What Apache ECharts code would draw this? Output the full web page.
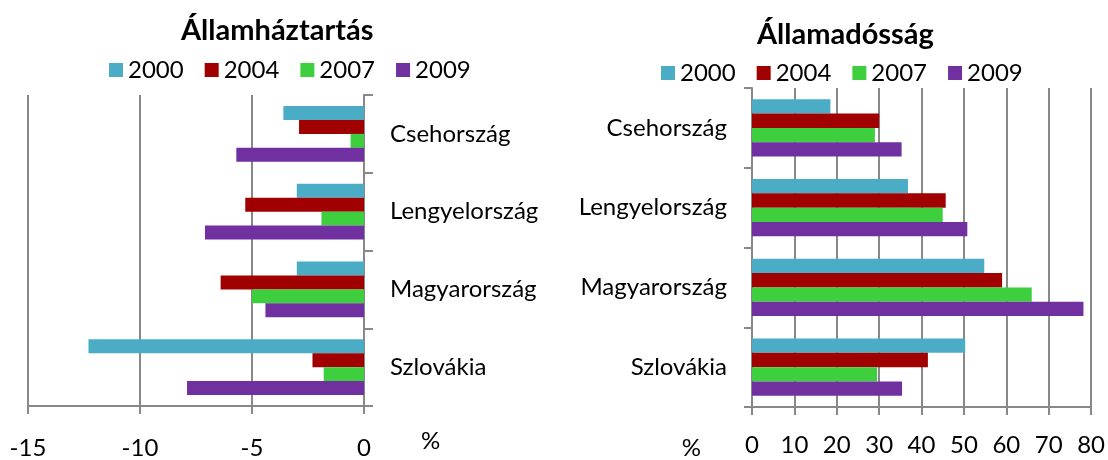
<!DOCTYPE html>
<html><head><meta charset="utf-8">
<script src="https://cdn.jsdelivr.net/npm/echarts@6/dist/echarts.min.js"></script>
<style>html,body{margin:0;padding:0;background:#fff}#c{width:1108px;height:460px}</style>
</head><body><div id="c"></div>
<script>
const categories = ['Csehország', 'Lengyelország', 'Magyarország', 'Szlovákia'];
const years = ['2000', '2004', '2007', '2009'];
const deficit2000 = [-3.6, -3.0, -3.0, -12.3];
const deficit2004 = [-2.9, -5.3, -6.4, -2.3];
const deficit2007 = [-0.6, -1.9, -5.0, -1.8];
const deficit2009 = [-5.7, -7.1, -4.4, -7.9];
const debt2000 = [18.5, 36.8, 54.8, 50.3];
const debt2004 = [30.0, 45.7, 59.0, 41.5];
const debt2007 = [29.0, 45.0, 66.0, 29.5];
const debt2009 = [35.3, 50.8, 78.2, 35.4];
const deficitTicks = [-15, -10, -5, 0];
const debtTicks = [0, 10, 20, 30, 40, 50, 60, 70, 80];
const titles = ['Államháztartás', 'Államadósság'];
const unitLabel = '%';

const colors = ['#4BACC6', '#A00000', '#3ECF3E', '#7030A0'];
const FONT = 'Lato';
const FS = 24;
const axisGrey = '#888888';

const deficitSets = [deficit2000, deficit2004, deficit2007, deficit2009];
const debtSets = [debt2000, debt2004, debt2007, debt2009];

const chart = echarts.init(document.getElementById('c'), null, {renderer: 'canvas'});

function series(sets, idx) {
  return sets.map((d, i) => ({
    type: 'bar', name: years[i], data: d,
    xAxisIndex: idx, yAxisIndex: idx,
    itemStyle: {color: colors[i]},
    barGap: '0%', barCategoryGap: '28%'
  }));
}

const legendBase = {
  data: years, itemWidth: 14, itemHeight: 14, itemGap: 21, icon: 'rect', padding: 0,
  textStyle: {fontFamily: FONT, fontSize: FS, color: '#000'}
};

chart.setOption({
  animation: false,
  color: colors,
  title: [
    {text: titles[0], left: 181, top: 16, padding: 0, textStyle: {fontFamily: FONT, fontSize: 29, fontWeight: 'bold', color: '#000'}},
    {text: titles[1], left: 757, top: 20, padding: 0, textStyle: {fontFamily: FONT, fontSize: 29, fontWeight: 'bold', color: '#000'}}
  ],
  legend: [
    Object.assign({left: 109, top: 58}, legendBase),
    Object.assign({left: 661, top: 61}, legendBase)
  ],
  grid: [
    {left: 28, right: 744, top: 95, bottom: 53},
    {left: 752, right: 11, top: 88, bottom: 50}
  ],
  xAxis: [
    {
      gridIndex: 0, type: 'value',
      min: deficitTicks[0], max: deficitTicks[deficitTicks.length - 1], interval: 5,
      name: unitLabel, nameLocation: 'end', nameGap: 57,
      nameTextStyle: {fontFamily: FONT, fontSize: FS, color: '#000', verticalAlign: 'top', padding: [23, 0, 0, 0]},
      axisLine: {show: true, lineStyle: {color: axisGrey, width: 2}},
      axisTick: {show: true, length: 8, lineStyle: {color: axisGrey, width: 2}},
      splitLine: {show: true, lineStyle: {color: axisGrey, width: 2}},
      axisLabel: {fontFamily: FONT, fontSize: FS, color: '#000', margin: 30}
    },
    {
      gridIndex: 1, type: 'value',
      min: debtTicks[0], max: debtTicks[debtTicks.length - 1], interval: 10,
      name: unitLabel, nameLocation: 'start', nameGap: 51,
      nameTextStyle: {fontFamily: FONT, fontSize: FS, color: '#000', verticalAlign: 'top', padding: [29, 0, 0, 0]},
      axisLine: {show: true, lineStyle: {color: axisGrey, width: 2}},
      axisTick: {show: true, length: 8, lineStyle: {color: axisGrey, width: 2}},
      splitLine: {show: true, lineStyle: {color: axisGrey, width: 2}},
      axisLabel: {fontFamily: FONT, fontSize: FS, color: '#000', margin: 26}
    }
  ],
  yAxis: [
    {
      gridIndex: 0, type: 'category', data: categories, inverse: true, position: 'right',
      axisLine: {show: true, lineStyle: {color: axisGrey, width: 2}},
      axisTick: {show: true, length: 9, lineStyle: {color: axisGrey, width: 2}},
      axisLabel: {fontFamily: FONT, fontSize: FS, color: '#000', margin: 26}
    },
    {
      gridIndex: 1, type: 'category', data: categories, inverse: true, position: 'left',
      axisLine: {show: true, lineStyle: {color: axisGrey, width: 2}},
      axisTick: {show: true, length: 8, lineStyle: {color: axisGrey, width: 2}},
      axisLabel: {fontFamily: FONT, fontSize: FS, color: '#000', margin: 25}
    }
  ],
  series: series(deficitSets, 0).concat(series(debtSets, 1))
});
</script></body></html>
